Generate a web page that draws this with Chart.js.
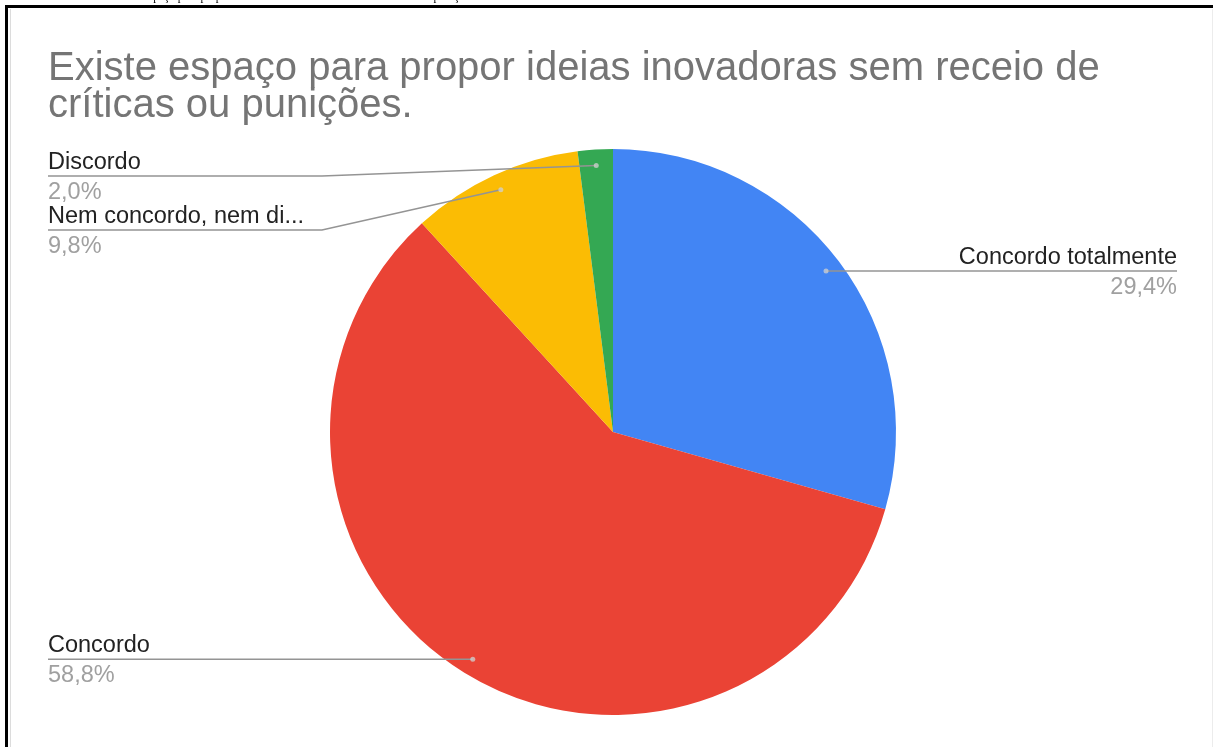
<!DOCTYPE html>
<html>
<head>
    <meta charset="utf-8">
    <title>Existe espaço para propor ideias inovadoras</title>
    <script src="https://cdn.jsdelivr.net/npm/chart.js"></script>
    <style>
        html, body { margin: 0; padding: 0; background: #fff; overflow: hidden; }
        #pieChart { position: absolute; left: 0; top: 0; }
        .frame {
            position: absolute; left: 5px; top: 5px; width: 1300px; height: 800px;
            border-top: 3px solid #000; border-left: 3px solid #000;
            pointer-events: none;
        }
        .frame-inner {
            position: absolute; left: 10px; top: 9px; width: 1201px; height: 800px;
            border-left: 1px solid #dcdcdc; border-right: 1px solid #ececec;
            pointer-events: none;
        }
    </style>
</head>
<body>
    <canvas id="pieChart" width="1213" height="747"></canvas>
    <div class="frame"></div>
    <div class="frame-inner"></div>
    <script>
        const chartTitle = ['Existe espaço para propor ideias inovadoras sem receio de', 'críticas ou punições.'];
        const captionText = 'Existe espaço para propor ideias inovadoras sem receio de críticas ou punições';
        const categories = ['Concordo totalmente', 'Concordo', 'Nem concordo, nem discordo', 'Discordo'];
        const shares = [29.4, 58.8, 9.8, 2.0];
        const sliceColors = ['#4285f4', '#ea4335', '#fbbc04', '#34a853'];

        const labelFont = '23.5px "Liberation Sans", Arial, sans-serif';
        const leftX = 48, leftElbow = 322, rightX = 1177, rightElbow = 900;
        const labelTop = 176, labelGap = 54, labelMaxWidth = 262;

        function fmtPct(v) {
            return v.toFixed(1).replace('.', ',') + '%';
        }

        function fitText(ctx, text, maxW) {
            if (ctx.measureText(text).width <= maxW) return text;
            let s = text;
            while (s.length > 1 && ctx.measureText(s + '...').width > maxW) s = s.slice(0, -1);
            return s.trimEnd() + '...';
        }

        // title, leader lines and outside labels in the spreadsheet style
        const pieLabels = {
            id: 'pieLabels',
            afterDraw(chart) {
                const ctx = chart.ctx;
                ctx.save();

                // bottom of the caption line above the frame
                ctx.font = '11.5px "Liberation Serif"';
                ctx.fillStyle = '#000';
                ctx.textBaseline = 'alphabetic';
                ctx.fillText(captionText, 112, -0.5);

                ctx.font = '40px "Liberation Sans", Arial, sans-serif';
                ctx.fillStyle = '#757575';
                ctx.fillText(chartTitle[0], 48, 80);
                ctx.fillText(chartTitle[1], 48, 117);

                const arcs = chart.getDatasetMeta(0).data;
                const items = arcs.map((arc, i) => {
                    const p = arc.getProps(['x', 'y', 'startAngle', 'endAngle', 'outerRadius'], true);
                    const mid = (p.startAngle + p.endAngle) / 2;
                    const r = p.outerRadius - 16;
                    return {
                        i,
                        dx: p.x + Math.cos(mid) * r,
                        dy: p.y + Math.sin(mid) * r,
                        right: Math.cos(mid) >= 0
                    };
                });

                ['left', 'right'].forEach(side => {
                    const list = items.filter(it => (side === 'right') === it.right)
                        .sort((a, b) => a.dy - b.dy);
                    let prev = labelTop - labelGap;
                    list.forEach(it => {
                        it.ly = Math.max(it.dy, prev + labelGap);
                        prev = it.ly;
                    });
                });

                items.forEach(it => {
                    const x0 = it.right ? rightX : leftX;
                    const elbow = it.right ? rightElbow : leftElbow;

                    ctx.strokeStyle = '#949494';
                    ctx.lineWidth = 1.6;
                    ctx.beginPath();
                    ctx.moveTo(x0, it.ly);
                    ctx.lineTo(elbow, it.ly);
                    ctx.lineTo(it.dx, it.dy);
                    ctx.stroke();

                    ctx.fillStyle = 'rgba(210,210,210,0.75)';
                    ctx.beginPath();
                    ctx.arc(it.dx, it.dy, 2.5, 0, Math.PI * 2);
                    ctx.fill();

                    ctx.font = labelFont;
                    ctx.textAlign = it.right ? 'right' : 'left';
                    ctx.fillStyle = '#222';
                    ctx.fillText(fitText(ctx, categories[it.i], labelMaxWidth), x0, it.ly - 7);
                    ctx.fillStyle = '#a0a0a0';
                    ctx.fillText(fmtPct(shares[it.i]), x0, it.ly + 23);
                });

                ctx.restore();
            }
        };

        new Chart(document.getElementById('pieChart'), {
            type: 'pie',
            data: {
                labels: categories,
                datasets: [{
                    data: shares,
                    backgroundColor: sliceColors,
                    borderWidth: 0
                }]
            },
            options: {
                responsive: false,
                animation: false,
                devicePixelRatio: 1,
                layout: { padding: { left: 330, right: 317, top: 149, bottom: 32 } },
                plugins: {
                    legend: { display: false },
                    tooltip: { enabled: false }
                }
            },
            plugins: [pieLabels]
        });
    </script>
</body>
</html>
